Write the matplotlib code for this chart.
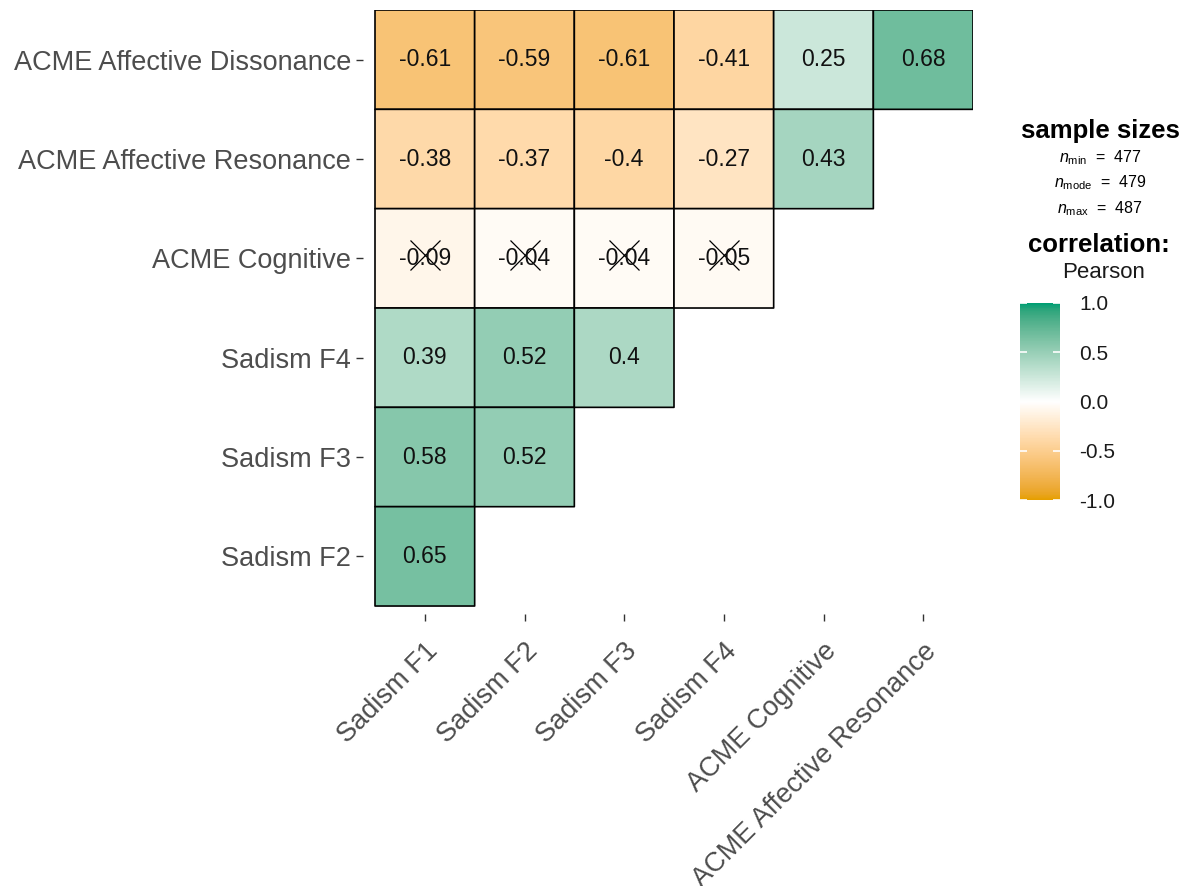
import numpy as np
import matplotlib
matplotlib.use("Agg")
import matplotlib.pyplot as plt
from matplotlib.colors import LinearSegmentedColormap

plt.rcParams['font.family'] = ['Liberation Sans', 'DejaVu Sans']
plt.rcParams['mathtext.fontset'] = 'custom'
plt.rcParams['mathtext.rm'] = 'Liberation Sans'
plt.rcParams['mathtext.it'] = 'Liberation Sans:italic'

# correlation data (lower triangle)
col_labels = ["Sadism F1", "Sadism F2", "Sadism F3", "Sadism F4",
              "ACME Cognitive", "ACME Affective Resonance"]
row_labels = ["ACME Affective Dissonance", "ACME Affective Resonance",
              "ACME Cognitive", "Sadism F4", "Sadism F3", "Sadism F2"]

r_dissonance = [-0.61, -0.59, -0.61, -0.41, 0.25, 0.68]
r_resonance = [-0.38, -0.37, -0.40, -0.27, 0.43]
r_cognitive = [-0.09, -0.04, -0.04, -0.05]
r_f4 = [0.39, 0.52, 0.40]
r_f3 = [0.58, 0.52]
r_f2 = [0.65]
rows = [r_dissonance, r_resonance, r_cognitive, r_f4, r_f3, r_f2]

# non-significant correlations are crossed out
nonsig = [(2, 0), (2, 1), (2, 2), (2, 3)]

n_min, n_mode, n_max = 477, 479, 487


# diverging palette interpolated in CIE Lab space
def _srgb_to_lab(rgb):
    c = np.asarray(rgb, float)
    c = np.where(c <= 0.04045, c / 12.92, ((c + 0.055) / 1.055) ** 2.4)
    M = np.array([[0.4124, 0.3576, 0.1805],
                  [0.2126, 0.7152, 0.0722],
                  [0.0193, 0.1192, 0.9505]])
    xyz = M @ c / np.array([0.95047, 1.0, 1.08883])
    f = np.where(xyz > 0.008856, np.cbrt(xyz), 7.787 * xyz + 16 / 116)
    return np.array([116 * f[1] - 16, 500 * (f[0] - f[1]), 200 * (f[1] - f[2])])


def _lab_to_srgb(lab):
    L, a, b = lab
    fy = (L + 16) / 116
    fx = fy + a / 500
    fz = fy - b / 200
    f = np.array([fx, fy, fz])
    xyz = np.where(f ** 3 > 0.008856, f ** 3, (f - 16 / 116) / 7.787)
    xyz = xyz * np.array([0.95047, 1.0, 1.08883])
    Minv = np.array([[3.2406, -1.5372, -0.4986],
                     [-0.9689, 1.8758, 0.0415],
                     [0.0557, -0.2040, 1.0570]])
    c = Minv @ xyz
    c = np.where(c <= 0.0031308, 12.92 * c, 1.055 * np.clip(c, 0, None) ** (1 / 2.4) - 0.055)
    return np.clip(c, 0, 1)


low = matplotlib.colors.to_rgb("#E69F00")
mid = (1.0, 1.0, 1.0)
high = matplotlib.colors.to_rgb("#009E73")
stops = []
for t in np.linspace(0, 1, 33):
    a, b, s = (low, mid, t * 2) if t <= 0.5 else (mid, high, (t - 0.5) * 2)
    la, lb = _srgb_to_lab(a), _srgb_to_lab(b)
    stops.append((t, tuple(_lab_to_srgb(la + (lb - la) * s))))
cmap = LinearSegmentedColormap.from_list("corr", stops)

n = len(col_labels)
mat = np.full((n, n), np.nan)
for i, vals in enumerate(rows):
    mat[i, :len(vals)] = vals
masked = np.ma.masked_invalid(mat)

W, H = 1179, 886
fig = plt.figure(figsize=(W / 100, H / 100), dpi=100)

# panel with a small expansion beyond the tiles on the left and bottom
pad_x, pad_y = 0.12, 0.085
cell_px = 598 / n
left_px = 375 - pad_x * cell_px
bottom_px = 606 + pad_y * cell_px
ax = fig.add_axes([left_px / W, 1 - bottom_px / H,
                   (973 - left_px) / W, (bottom_px - 10) / H])

mesh = ax.pcolor(np.arange(n + 1), np.arange(n + 1), masked, cmap=cmap,
                 vmin=-1, vmax=1, edgecolors="black", linewidth=1.2)
ax.set_xlim(-pad_x, n)
ax.set_ylim(n + pad_y, 0)

for i, vals in enumerate(rows):
    for j, v in enumerate(vals):
        txt = f"{v:.2f}"
        if txt.endswith("0"):
            txt = txt[:-1]
        ax.text(j + 0.5, i + 0.5, txt, ha="center", va="center",
                fontsize=16.5, color="#111111")

xs = [j + 0.5 for i, j in nonsig]
ys = [i + 0.47 for i, j in nonsig]
ax.plot(xs, ys, linestyle="none", marker="x", markersize=21,
        markeredgewidth=0.9, color="black")

for s in ax.spines.values():
    s.set_visible(False)
ax.set_xticks(np.arange(n) + 0.5)
ax.set_yticks(np.arange(n) + 0.5)
ax.set_xticklabels(col_labels, rotation=45, ha="right", va="top",
                   rotation_mode="anchor", fontsize=19.5, color="#4D4D4D")
ax.set_yticklabels(row_labels, fontsize=19.5, color="#4D4D4D")
ax.tick_params(axis="both", length=5, width=1.0, color="#333333")
ax.tick_params(axis="y", pad=3.5)
ax.tick_params(axis="x", pad=12)

# legend: sample sizes and correlation type
cx = 1100 / W
fig.text(cx, 1 - 131 / H, "sample sizes", fontsize=18.5, fontweight="bold",
         ha="center", va="center", color="black")
fig.text(cx, 1 - 158 / H, r"$n_{\mathrm{min}}$  =  %d" % n_min, fontsize=11.5,
         ha="center", va="center")
fig.text(cx, 1 - 183 / H, r"$n_{\mathrm{mode}}$  =  %d" % n_mode, fontsize=11.5,
         ha="center", va="center")
fig.text(cx, 1 - 209 / H, r"$n_{\mathrm{max}}$  =  %d" % n_max, fontsize=11.5,
         ha="center", va="center")
fig.text(1099 / W, 1 - 245 / H, "correlation:", fontsize=18.5, fontweight="bold",
         ha="center", va="center")
fig.text(1104 / W, 1 - 272 / H, "Pearson", fontsize=16, ha="center", va="center",
         color="#1A1A1A")

cax = fig.add_axes([1020 / W, 1 - 500 / H, 40 / W, 197 / H])
cb = fig.colorbar(mesh, cax=cax, ticks=[-1, -0.5, 0, 0.5, 1])
cb.outline.set_visible(False)
cb.ax.set_yticklabels(["-1.0", "-0.5", "0.0", "0.5", "1.0"])
cb.ax.yaxis.set_ticks_position("both")
cb.ax.tick_params(length=5, width=1.2, color="white", direction="in",
                  labelsize=15, labelcolor="#1A1A1A", pad=14,
                  labelleft=False, labelright=True)

fig.savefig("out.png", dpi=100, facecolor="white")
